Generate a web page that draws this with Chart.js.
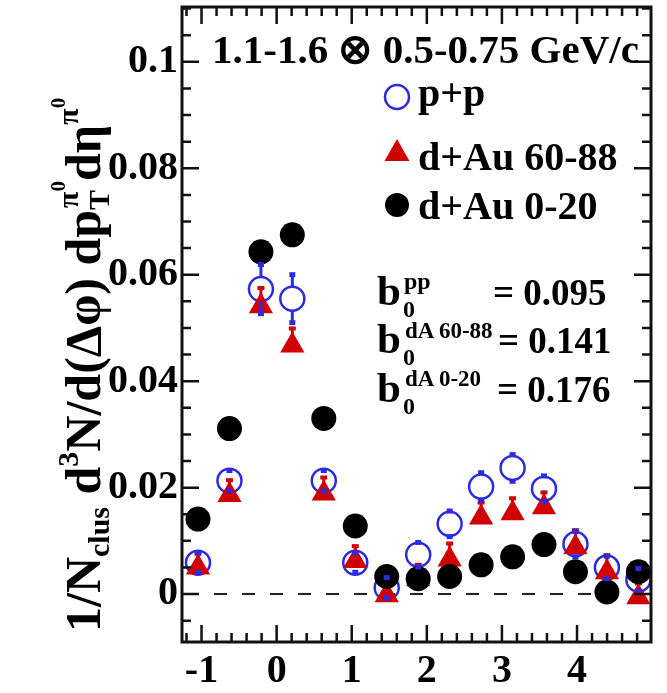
<!DOCTYPE html>
<html><head><meta charset="utf-8">
<script src="https://cdn.jsdelivr.net/npm/chart.js@4.4.0/dist/chart.umd.min.js"></script>
<style>
body{margin:0;background:#fff;}
#wrap{position:relative;width:667px;height:693px;overflow:hidden;}
#c{position:absolute;left:0;top:0;}
.t{position:absolute;font-family:"Liberation Serif","Times New Roman",serif;font-weight:bold;color:#000;white-space:nowrap;line-height:1;}
.sub{font-size:0.6em;position:relative;top:0.3em;}
.sup{font-size:0.6em;position:relative;top:-0.75em;}
.sup2{font-size:0.7em;position:relative;top:-0.6em;}
</style></head><body>
<div id="wrap"><canvas id="c" width="667" height="693"></canvas>
<svg id="leg" style="position:absolute;left:0;top:0" width="667" height="693">
  <circle cx="397" cy="97" r="12" fill="none" stroke="#2b2be0" stroke-width="2.5"/>
  <polygon points="397,139 384.5,161 409.5,161" fill="#d00000"/>
  <circle cx="397" cy="205" r="12" fill="#000"/>
</svg>
</div>
<script>
// ---- data ----
const xCenters = [-1.047, -0.628, -0.209, 0.209, 0.628, 1.047, 1.466, 1.885, 2.304, 2.723, 3.142, 3.560, 3.979, 4.398, 4.817];
const ppY   = [0.0059, 0.0213, 0.0573, 0.0555, 0.0213, 0.0059, 0.0012, 0.0074, 0.0132, 0.0202, 0.0237, 0.0198, 0.0094, 0.0050, 0.0027];
const ppErr = [0.0019, 0.0020, 0.0047, 0.0046, 0.0020, 0.0019, 0.0020, 0.0024, 0.0025, 0.0027, 0.0026, 0.0025, 0.0025, 0.0022, 0.0022];
const dAuPeriphY   = [0.0050, 0.0186, 0.0541, 0.0467, 0.0189, 0.0062, -0.0002, 0.0028, 0.0065, 0.0144, 0.0152, 0.0163, 0.0088, 0.0041, -0.0006];
const dAuPeriphErr = [0.0027, 0.0029, 0.0035, 0.0033, 0.0031, 0.0029, 0.0028, 0.0028, 0.0031, 0.0029, 0.0029, 0.0029, 0.0033, 0.0033, 0.0027];
const dAuCentY = [0.0141, 0.0311, 0.0643, 0.0675, 0.0330, 0.0128, 0.0033, 0.0029, 0.0033, 0.0055, 0.0070, 0.0093, 0.0042, 0.0004, 0.0042];
const xTicks = [-1, 0, 1, 2, 3, 4];
const xTickLabels = ['-1', '0', '1', '2', '3', '4'];
const yTicks = [0, 0.02, 0.04, 0.06, 0.08, 0.1];
const yTickLabels = ['0', '0.02', '0.04', '0.06', '0.08', '0.1'];

const BLUE = '#2b2be0', RED = '#d00000';
const FONT = '"Liberation Serif","Times New Roman",serif';

function pts(ys){ return xCenters.map((x,i)=>({x:x, y:ys[i]})); }

const decor = {
  id:'decor',
  beforeDatasetsDraw(chart){
    const {ctx, chartArea:a, scales:{x:xs, y:ys}} = chart;
    ctx.save();
    ctx.strokeStyle = '#222'; ctx.lineWidth = 2; ctx.setLineDash([13,15]);
    const y0 = ys.getPixelForValue(0);
    ctx.beginPath(); ctx.moveTo(a.left+4, y0); ctx.lineTo(a.right, y0); ctx.stroke();
    ctx.setLineDash([]);
    ctx.strokeStyle = RED; ctx.fillStyle = RED; ctx.lineWidth = 3;
    xCenters.forEach((xv,i)=>{
      const px = xs.getPixelForValue(xv);
      const yc = ys.getPixelForValue(dAuPeriphY[i]);
      const yt = ys.getPixelForValue(dAuPeriphY[i]+dAuPeriphErr[i]);
      ctx.beginPath(); ctx.moveTo(px, yc); ctx.lineTo(px, yt); ctx.stroke();
      ctx.fillRect(px-3.5, yt-1.5, 7, 4);
    });
    ctx.restore();
  },
  afterDatasetsDraw(chart){
    const {ctx, scales:{x:xs, y:ys}} = chart;
    ctx.save();
    ctx.strokeStyle = BLUE; ctx.fillStyle = BLUE; ctx.lineWidth = 3;
    const r = 12;
    xCenters.forEach((xv,i)=>{
      const px = xs.getPixelForValue(xv);
      const yc = ys.getPixelForValue(ppY[i]);
      const yt = ys.getPixelForValue(ppY[i]+ppErr[i]);
      const yb = ys.getPixelForValue(ppY[i]-ppErr[i]);
      if (yc - yt > r) { ctx.beginPath(); ctx.moveTo(px, yc-r); ctx.lineTo(px, yt); ctx.stroke(); }
      if (yb - yc > r) { ctx.beginPath(); ctx.moveTo(px, yc+r); ctx.lineTo(px, yb); ctx.stroke(); }
      ctx.fillRect(px-3, yt-2, 6, 5);
      ctx.fillRect(px-3, yb-3, 6, 5);
    });
    ctx.restore();
  },
  afterDraw(chart){
    const {ctx, chartArea:a, scales:{x:xs, y:ys}} = chart;
    ctx.save();
    ctx.strokeStyle = '#111'; ctx.lineWidth = 2.5;
    const L = 17, S = 9;
    ctx.beginPath();
    for (let v = -1.2; v <= 4.9; v += 0.2) {
      const vv = Math.round(v*10)/10;
      const px = xs.getPixelForValue(vv);
      const len = (Math.abs(vv - Math.round(vv)) < 1e-6) ? L : S;
      ctx.moveTo(px, a.bottom); ctx.lineTo(px, a.bottom - len);
      ctx.moveTo(px, a.top); ctx.lineTo(px, a.top + len);
    }
    for (let k = -1; k <= 22; k++) {
      const v = k*0.005;
      const py = ys.getPixelForValue(v);
      if (py < a.top || py > a.bottom) continue;
      const len = (k % 4 === 0) ? L : S;
      ctx.moveTo(a.left, py); ctx.lineTo(a.left + len, py);
      ctx.moveTo(a.right, py); ctx.lineTo(a.right - len, py);
    }
    ctx.stroke();
    ctx.lineWidth = 3;
    ctx.strokeRect(a.left, a.top, a.right - a.left, a.bottom - a.top);
    ctx.restore();
  }
};

new Chart(document.getElementById('c'), {
  type: 'scatter',
  data: { datasets: [
    { label:'p+p', data: pts(ppY), pointStyle:'circle', pointRadius:12, pointBorderWidth:2.5,
      pointBorderColor:BLUE, pointBackgroundColor:'rgba(0,0,0,0)', showLine:false, order:3 },
    { label:'d+Au 60-88', data: pts(dAuPeriphY), pointStyle:'triangle', pointRadius:14, pointBorderWidth:0,
      pointBorderColor:RED, pointBackgroundColor:RED, showLine:false, order:2 },
    { label:'d+Au 0-20', data: pts(dAuCentY), pointStyle:'circle', pointRadius:12.5, pointBorderWidth:0,
      pointBorderColor:'#000', pointBackgroundColor:'#000', showLine:false, order:1 }
  ]},
  options: {
    responsive:false, animation:false, devicePixelRatio:1, events:[],
    layout:{ autoPadding:false, padding:{ top:7, right:16, left:0, bottom:0 } },
    plugins:{ legend:{display:false}, tooltip:{enabled:false} },
    scales:{
      x:{ type:'linear', min:-1.26, max:4.985,
        afterFit(s){ s.height = 51; s.paddingLeft = 0; s.paddingRight = 0; },
        afterBuildTicks(s){ s.ticks = xTicks.map(v=>({value:v})); },
        grid:{ display:false, drawTicks:false }, border:{ display:false },
        ticks:{ color:'#000', padding:6, maxRotation:0, autoSkip:false,
          font:{ family:FONT, size:40, weight:'bold' },
          callback(v){ const i = xTicks.indexOf(v); return i>=0 ? xTickLabels[i] : ''; } }
      },
      y:{ type:'linear', min:-0.009, max:0.1103,
        afterFit(s){ s.width = 182; s.paddingTop = 0; s.paddingBottom = 0; },
        afterBuildTicks(s){ s.ticks = yTicks.map(v=>({value:v})); },
        grid:{ display:false, drawTicks:false }, border:{ display:false },
        ticks:{ color:'#000', padding:4, autoSkip:false,
          font:{ family:FONT, size:40, weight:'bold' },
          callback(v){ const i = yTicks.findIndex(t=>Math.abs(t-v)<1e-9); return i>=0 ? yTickLabels[i] : ''; } }
      }
    }
  },
  plugins:[decor]
});

// ---- text annotations (HTML) ----
const wrap = document.getElementById('wrap');
function put(html, x, base, size){
  const d = document.createElement('div');
  d.className = 't'; d.innerHTML = html;
  d.style.fontSize = size + 'px';
  d.style.left = x + 'px';
  d.style.top = (base - 0.8375*size) + 'px';
  wrap.appendChild(d);
  return d;
}
put('1.1-1.6 \u2297 0.5-0.75 GeV/c', 212, 63, 41);
put('p+p', 418, 106, 40);
put('d+Au 60-88', 418, 170, 40);
put('d+Au 0-20', 418, 219, 40);

put('b', 377, 305, 43); put('pp', 404, 289, 24); put('0', 403, 317, 24); put('= 0.095', 493, 305, 37);
put('b', 377, 353, 43); put('dA 60-88', 405, 338, 23); put('0', 403, 365, 24); put('= 0.141', 498, 353, 37);
put('b', 377, 402, 43); put('dA 0-20', 405, 386, 23); put('0', 403, 414, 24); put('= 0.176', 497, 402, 37);

// rotated y-axis title
const ySize = 50;
const yt = put('1/N<span class="sub">clus</span> d<span class="sup">3</span>N/d(\u0394\u03c6) dp<span class="sub">T</span><span class="sup" style="margin-left:-18px">\u03c0<span class="sup2">0</span></span>d\u03b7<span class="sup">\u03c0<span class="sup2">0</span></span>', 0, 0, ySize);
yt.style.left = (100 - 0.8375*ySize) + 'px';
yt.style.top = '632px';
yt.style.transformOrigin = '0 0';
yt.style.transform = 'rotate(-90deg)';
</script>
</body></html>
